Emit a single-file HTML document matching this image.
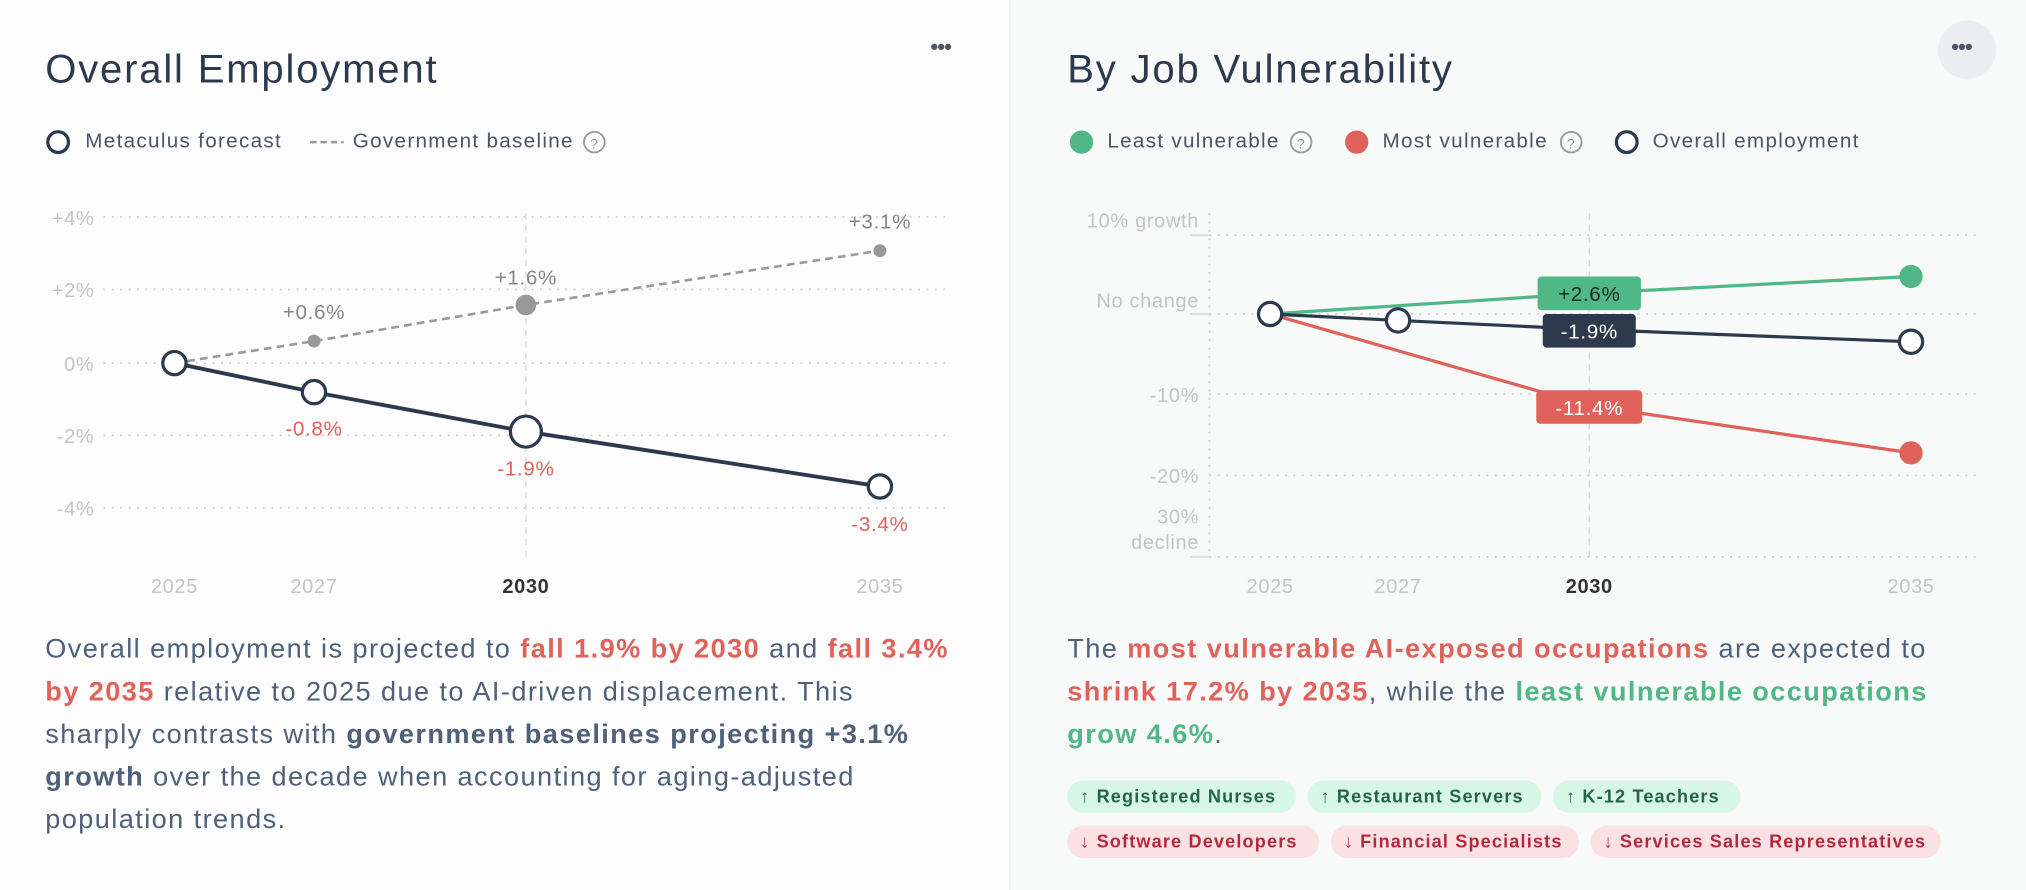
<!DOCTYPE html>
<html><head><meta charset="utf-8"><style>
html,body{margin:0;padding:0;width:2026px;height:890px;overflow:hidden;background:#fff}
#w{position:absolute;left:0;top:0;width:1568px;height:689px;transform:scale(1.29209);transform-origin:0 0;font-family:"Liberation Sans",sans-serif}
.lp{position:absolute;left:0;top:0;width:780px;height:689px;background:#fdfdfd}
.rp{position:absolute;left:781px;top:0;width:787px;height:689px;background:#f8f9f9;border-left:1px solid #eceef0}
.t{position:absolute;font-size:31px;color:#2d3a4e;white-space:nowrap;letter-spacing:1.4px}
.lg{position:absolute;top:101px;font-size:16px;color:#4a5568;white-space:nowrap;letter-spacing:1px}
.p{position:absolute;font-size:21px;line-height:33px;color:#4e607a;white-space:nowrap;letter-spacing:1.1px}
.r{color:#e0625a;font-weight:bold}.g{color:#4fb886;font-weight:bold}.d{color:#4e607a;font-weight:bold}
.tag{position:absolute;height:25px;line-height:25px;border-radius:13px;font-size:14px;font-weight:bold;padding:0 10px;white-space:nowrap;box-sizing:border-box;letter-spacing:0.9px}
.up{background:#d8f6e6;color:#23654a}.dn{background:#fce1e4;color:#b3293d}
svg text{font-family:"Liberation Sans",sans-serif;letter-spacing:0.5px}
</style></head><body><div id="w">
<div class="lp"></div><div class="rp"></div>
<div class="t" style="left:35px;top:36px">Overall Employment</div>
<div class="t" style="left:826px;top:36px">By Job Vulnerability</div>
<div style="position:absolute;left:720px;top:26px;font-size:18px;color:#4a5568;letter-spacing:-1px">•••</div>
<div style="position:absolute;left:1500px;top:16px;width:45px;height:45px;border-radius:50%;background:#eceef1"></div>
<div style="position:absolute;left:1510px;top:26px;font-size:18px;color:#4a5568;letter-spacing:-1px">•••</div>
<svg style="position:absolute;left:0;top:0" width="1568" height="689">
<circle cx="45" cy="110" r="8" fill="#fff" stroke="#2d3a4e" stroke-width="2.5"/>
<line x1="240" y1="110" x2="266" y2="110" stroke="#999" stroke-width="2" stroke-dasharray="5,3"/>
<circle cx="460" cy="110" r="8" fill="none" stroke="#999" stroke-width="1.4"/>
<text x="460" y="115" font-size="11" fill="#999" text-anchor="middle">?</text>
<circle cx="837" cy="110" r="9" fill="#4fb886"/>
<circle cx="1007" cy="110" r="8" fill="none" stroke="#999" stroke-width="1.4"/>
<text x="1007" y="115" font-size="11" fill="#999" text-anchor="middle">?</text>
<circle cx="1050" cy="110" r="9" fill="#e0625a"/>
<circle cx="1216" cy="110" r="8" fill="none" stroke="#999" stroke-width="1.4"/>
<text x="1216" y="115" font-size="11" fill="#999" text-anchor="middle">?</text>
<circle cx="1259" cy="110" r="8" fill="#fff" stroke="#2d3a4e" stroke-width="2.5"/>
<g stroke="#ccc" stroke-width="1.3" stroke-dasharray="1.5,5">
<line x1="80" y1="168" x2="735" y2="168"/><line x1="80" y1="224" x2="735" y2="224"/><line x1="80" y1="281" x2="735" y2="281"/><line x1="80" y1="337" x2="735" y2="337"/><line x1="80" y1="393" x2="735" y2="393"/>
</g>
<line x1="407" y1="165" x2="407" y2="432" stroke="#d8d8d8" stroke-width="1" stroke-dasharray="5,4"/>
<g font-size="15.5" fill="#c4c4c4" text-anchor="end">
<text x="73" y="174">+4%</text><text x="73" y="230">+2%</text><text x="73" y="287">0%</text><text x="73" y="343">-2%</text><text x="73" y="399">-4%</text>
</g>
<g font-size="15.5" text-anchor="middle" fill="#c4c4c4">
<text x="135" y="459">2025</text><text x="243" y="459">2027</text><text x="407" y="459" fill="#333" font-weight="bold">2030</text><text x="681" y="459">2035</text>
</g>
<polyline points="135,281 243,264 407,236 681,194" fill="none" stroke="#999" stroke-width="2" stroke-dasharray="6,4"/>
<circle cx="243" cy="264" r="5" fill="#999"/><circle cx="407" cy="236" r="8" fill="#999"/><circle cx="681" cy="194" r="5" fill="#999"/>
<polyline points="135,281 243,303.5 407,334 681,376.5" fill="none" stroke="#2d3a4e" stroke-width="3"/>
<circle cx="135" cy="281" r="9" fill="#fff" stroke="#2d3a4e" stroke-width="2.5"/>
<circle cx="243" cy="303.5" r="9" fill="#fff" stroke="#2d3a4e" stroke-width="2.5"/>
<circle cx="407" cy="334" r="12" fill="#fff" stroke="#2d3a4e" stroke-width="2.5"/>
<circle cx="681" cy="376.5" r="9" fill="#fff" stroke="#2d3a4e" stroke-width="2.5"/>
<g font-size="16" text-anchor="middle">
<text x="243" y="247" fill="#888">+0.6%</text><text x="407" y="220" fill="#888">+1.6%</text><text x="681" y="177" fill="#888">+3.1%</text>
<text x="243" y="337" fill="#e0625a">-0.8%</text><text x="407" y="368" fill="#e0625a">-1.9%</text><text x="681" y="411" fill="#e0625a">-3.4%</text>
</g>
<g stroke="#ccc" stroke-width="1.3" stroke-dasharray="1.5,5">
<line x1="936" y1="182" x2="1530" y2="182"/><line x1="936" y1="243" x2="1530" y2="243"/><line x1="936" y1="305" x2="1530" y2="305"/><line x1="936" y1="368" x2="1530" y2="368"/><line x1="936" y1="431" x2="1530" y2="431"/>
<line x1="936" y1="165" x2="936" y2="431"/>
</g>
<g stroke="#ddd" stroke-width="1.5"><line x1="921" y1="182" x2="936" y2="182"/><line x1="921" y1="243" x2="936" y2="243"/><line x1="921" y1="431" x2="936" y2="431"/></g>
<line x1="1230" y1="165" x2="1230" y2="432" stroke="#d8d8d8" stroke-width="1" stroke-dasharray="5,4"/>
<g font-size="15.5" fill="#c4c4c4" text-anchor="end">
<text x="928" y="176">10% growth</text><text x="928" y="238">No change</text><text x="928" y="311">-10%</text><text x="928" y="374">-20%</text><text x="928" y="405">30%</text><text x="928" y="425">decline</text>
</g>
<g font-size="15.5" text-anchor="middle" fill="#c4c4c4">
<text x="983" y="459">2025</text><text x="1082" y="459">2027</text><text x="1230" y="459" fill="#333" font-weight="bold">2030</text><text x="1479" y="459">2035</text>
</g>
<polyline points="983,243 1230,227 1479,214" fill="none" stroke="#4fb886" stroke-width="2.5"/>
<polyline points="983,243 1230,314 1479,350.5" fill="none" stroke="#e0625a" stroke-width="2.5"/>
<polyline points="983,243 1082,248 1230,255 1479,264.5" fill="none" stroke="#2d3a4e" stroke-width="2.5"/>
<circle cx="1479" cy="214" r="9" fill="#4fb886"/><circle cx="1479" cy="350.5" r="9" fill="#e0625a"/>
<circle cx="983" cy="243" r="9" fill="#fff" stroke="#2d3a4e" stroke-width="2.5"/>
<circle cx="1082" cy="248" r="9" fill="#fff" stroke="#2d3a4e" stroke-width="2.5"/>
<circle cx="1479" cy="264.5" r="9" fill="#fff" stroke="#2d3a4e" stroke-width="2.5"/>
<rect x="1190" y="214" width="80" height="26" rx="3" fill="#4fb886"/>
<text x="1230" y="233" font-size="16" fill="#1a2a20" text-anchor="middle">+2.6%</text>
<rect x="1194" y="243" width="72" height="26" rx="3" fill="#2d3a4e"/>
<text x="1230" y="262" font-size="16" fill="#fff" text-anchor="middle">-1.9%</text>
<rect x="1189" y="302" width="82" height="26" rx="3" fill="#e0625a"/>
<text x="1230" y="321" font-size="16" fill="#fff" text-anchor="middle">-11.4%</text>
</svg>
<div class="lg" style="left:66px">Metaculus forecast</div>
<div class="lg" style="left:273px">Government baseline</div>
<div class="lg" style="left:857px">Least vulnerable</div>
<div class="lg" style="left:1070px">Most vulnerable</div>
<div class="lg" style="left:1279px">Overall employment</div>
<div class="p" style="left:35px;top:486px">Overall employment is projected to <span class="r">fall 1.9% by 2030</span> and <span class="r">fall 3.4%</span><br><span class="r">by 2035</span> relative to 2025 due to AI-driven displacement. This<br>sharply contrasts with <span class="d">government baselines projecting +3.1%</span><br><span class="d">growth</span> over the decade when accounting for aging-adjusted<br>population trends.</div>
<div class="p" style="left:826px;top:486px">The <span class="r">most vulnerable AI-exposed occupations</span> are expected to<br><span class="r">shrink 17.2% by 2035</span>, while the <span class="g">least vulnerable occupations</span><br><span class="g">grow 4.6%</span>.</div>
<div class="tag up" style="left:826px;top:604px;width:177px">↑ Registered Nurses</div>
<div class="tag up" style="left:1012px;top:604px;width:181px">↑ Restaurant Servers</div>
<div class="tag up" style="left:1202px;top:604px;width:145px">↑ K-12 Teachers</div>
<div class="tag dn" style="left:826px;top:639px;width:195px">↓ Software Developers</div>
<div class="tag dn" style="left:1030px;top:639px;width:192px">↓ Financial Specialists</div>
<div class="tag dn" style="left:1231px;top:639px;width:271px">↓ Services Sales Representatives</div>
</div></body></html>
